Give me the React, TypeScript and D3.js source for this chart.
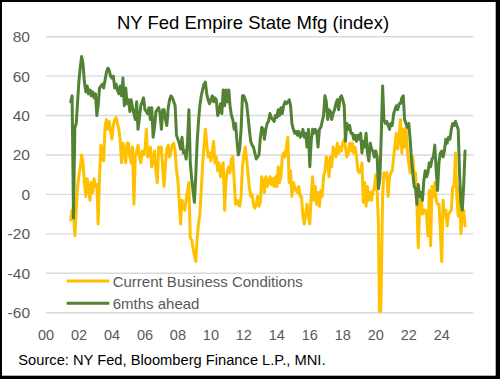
import React from "react";
import * as d3 from "d3";

const W = 500;
const H = 379;

// Series start: July 2001, monthly
const startYear = 2001;
const startMonth = 6; // 0-based (July)

const currentConditions: number[] = [
  // 2001 Jul-Dec
  -13, -8, -10, -21, -8, 4,
  // 2002
  10, 14, 20, 16, 6, -1, 8, 4, -3, 6, 1, 8,
  // 2003
  4, 5, -15, 9, 25, 19, 17, 34, 38, 33, 37, 32,
  // 2004
  28, 35, 38, 39, 36, 33, 28, 16, 26, 22, 16, 26,
  // 2005
  26, 19, 16, 24, -5, 19, 22, 25, 19, 16, 22, 20,
  // 2006
  22, 33, 19, 21, 24, 14, 18, 22, 12, 6, 24, 21,
  // 2007
  24, 12, 4, 16, 23, 25, 19, 22, 25, 26, 22, 12,
  // 2008
  7, -5, -15, -3, -5, -8, -3, 2, 6, -22, -23, -27,
  // 2009
  -31, -34, -23, -15, -10, 2, 15, 24, 33, 26, 19, 21,
  // 2010
  17, 22, 27, 16, 19, 12, 16, 9, 13, 16, -8, 7,
  // 2011
  12, 14, 11, 18, 19, 7, -5, -3, -5, -6, -1, 14,
  // 2012
  20, 24, 18, 11, 4, -1, 0, -5, -7, -5, -1, -6,
  // 2013
  -4, 9, 6, 1, 9, 4, 6, 9, 5, 8, 4, 9,
  // 2014
  4, 14, 6, 9, 19, 21, 19, 24, 29, 6, 12, -1,
  // 2015
  6, 4, 2, 1, 4, -1, -1, -11, -15, -10, -5, -11,
  // 2016
  -15, -1, 9, -3, 4, -5, 1, -6, 2, -1, 9, 12,
  // 2017
  19, 16, 9, 19, 14, 24, 22, 19, 26, 21, 24, 22,
  // 2018
  26, 28, 24, 19, 21, 26, 22, 26, 21, 24, 19, 12,
  // 2019
  11, 12, 16, -4, 6, -6, 4, -3, 1, -3, 2, 3,
  // 2020
  10, 1, -15, -78, -48, -1, 11, 9, 11, -1, 9, 11,
  // 2021
  12, 19, 25, 31, 23, 28, 38, 21, 33, 24, 34, 22,
  // 2022
  16, 11, 12, 19, 9, 11, -5, -27, -6, -1, -10, -8,
  // 2023
  -8, -11, -21, 2, -26, 4, -1, 6, -3, -5, -5, -18,
  // 2024
  -34, -3, -11, -8, -16, -10, -9, -8, 4, 4, 21, -1,
  // 2025 Jan-Jun
  -11, 4, -20, -9, -8, -16,
];

const sixMonthsAhead: number[] = [
  // 2001 Jul-Dec
  47, 50, -12, 34, 36, 47,
  // 2002
  58, 65, 70, 66, 57, 52, 55, 51, 53, 50, 52, 49,
  // 2003
  51, 40, 45, 54, 55, 56, 54, 58, 62, 64, 63, 60,
  // 2004
  59, 60, 54, 56, 53, 51, 55, 50, 59, 45, 54, 46,
  // 2005
  48, 42, 48, 44, 41, 38, 47, 33, 39, 45, 47, 49,
  // 2006
  43, 42, 41, 44, 38, 44, 29, 34, 42, 43, 44, 41,
  // 2007
  33, 43, 43, 38, 35, 44, 48, 50, 49, 47, 45, 30,
  // 2008
  28, 26, 23, 29, 21, 22, 18, 27, 43, 16, 8, 2,
  // 2009
  -4, 10, 26, 37, 45, 50, 53, 56, 57, 51, 48, 46,
  // 2010
  48, 50, 47, 49, 48, 40, 42, 46, 41, 53, 45, 53,
  // 2011
  47, 53, 45, 40, 38, 33, 36, 27, 20, 23, 33, 50,
  // 2012
  50, 48, 46, 40, 33, 27, 25, 24, 21, 18, 19, 20,
  // 2013
  29, 34, 33, 28, 33, 36, 37, 41, 39, 38, 37, 40,
  // 2014
  39, 43, 40, 44, 41, 45, 47, 46, 47, 48, 45, 36,
  // 2015
  33, 31, 32, 30, 32, 29, 30, 33, 29, 31, 24, 33,
  // 2016
  14, 27, 33, 31, 33, 32, 24, 33, 34, 37, 40, 50,
  // 2017
  47, 38, 43, 42, 38, 41, 43, 46, 48, 43, 49, 50,
  // 2018
  48, 45, 27, 36, 33, 35, 31, 31, 28, 30, 27, 30,
  // 2019
  28, 31, 21, 27, 24, 31, 21, 17, 26, 23, 22, 19,
  // 2020
  22, 19, 3, 8, 29, 55, 38, 36, 37, 35, 33, 36,
  // 2021
  35, 41, 43, 45, 43, 46, 46, 49, 50, 38, 36, 34,
  // 2022
  36, 28, 18, 11, 4, 3, -5, 5, -1, 1, -3, 7,
  // 2023
  12, 9, 11, 16, 14, 18, 19, 25, 12, 2, 16, 21,
  // 2024
  22, 19, 22, 28, 26, 29, 28, 33, 36, 35, 37, 35,
  // 2025 Jan-Jun
  33, 10, -4, -8, 4, 22,
];

const yTicks = [80, 60, 40, 20, 0, -20, -40, -60];
const xTickYears = [2000, 2002, 2004, 2006, 2008, 2010, 2012, 2014, 2016, 2018, 2020, 2022, 2024];
const xTickLabels = ["00", "02", "04", "06", "08", "10", "12", "14", "16", "18", "20", "22", "24"];
const seriesNames = ["Current Business Conditions", "6mths ahead"];
const seriesColors = ["#FFC000", "#548235"];
const titleText = "NY Fed Empire State Mfg (index)";
const sourceText = "Source: NY Fed, Bloomberg Finance L.P., MNI.";

const FONT = "'Liberation Sans', Arial, sans-serif";

export default function App() {
  const plotLeft = 46;
  const plotRight = 473.3;
  const plotTop = 36.7;
  const plotBottom = 312.7;

  const x = d3
    .scaleTime()
    .domain([new Date(2000, 0, 1), new Date(2025, 11, 1)])
    .range([plotLeft, plotRight]);
  const y = d3.scaleLinear().domain([-60, 80]).range([plotBottom, plotTop]);

  const dates = currentConditions.map((_, i) => new Date(startYear, startMonth + i, 1));

  const lineGen = d3
    .line<number>()
    .x((_, i) => x(dates[i]))
    .y((d) => y(d));

  const series = [currentConditions, sixMonthsAhead];

  return (
    <svg
      width={W}
      height={H}
      style={{ position: "absolute", left: 0, top: 0, display: "block" }}
      fontFamily={FONT}
    >
      <defs>
        <clipPath id="plotClip">
          <rect x={plotLeft} y={plotTop - 5} width={plotRight - plotLeft} height={plotBottom - plotTop + 5} />
        </clipPath>
      </defs>
      <rect x={0} y={0} width={W} height={H} fill="#000" />
      <rect x={2} y={2} width={493.7} height={373.7} fill="#fff" />

      <text x={253} y={29.3} textAnchor="middle" fontSize={18.5} fill="#000">
        {titleText}
      </text>

      {yTicks.map((t) => (
        <g key={t}>
          <line
            x1={plotLeft}
            x2={plotRight}
            y1={y(t)}
            y2={y(t)}
            stroke="#D9D9D9"
            strokeWidth={1.4}
          />
          <text
            x={30}
            y={y(t)}
            textAnchor="end"
            dominantBaseline="central"
            fontSize={15.5}
            fill="#595959"
          >
            {t}
          </text>
        </g>
      ))}

      {xTickYears.map((yr, i) => (
        <text
          key={yr}
          x={x(new Date(yr, 0, 1))}
          y={340}
          textAnchor="middle"
          fontSize={14.5}
          fill="#595959"
        >
          {xTickLabels[i]}
        </text>
      ))}

      <g clipPath="url(#plotClip)">
        {series.map((s, i) => (
          <path
            key={i}
            d={lineGen(s) || ""}
            fill="none"
            stroke={seriesColors[i]}
            strokeWidth={3}
            strokeLinejoin="round"
            strokeLinecap="round"
          />
        ))}
      </g>

      {seriesNames.map((name, i) => {
        const ly = i === 0 ? 281 : 303.3;
        return (
          <g key={name}>
            <line x1={66.7} x2={109.3} y1={ly} y2={ly} stroke={seriesColors[i]} strokeWidth={3} />
            <text x={112.7} y={ly} dominantBaseline="central" fontSize={15} fill="#595959">
              {name}
            </text>
          </g>
        );
      })}

      <text x={18.3} y={365} fontSize={14.7} fill="#000">
        {sourceText}
      </text>
    </svg>
  );
}
